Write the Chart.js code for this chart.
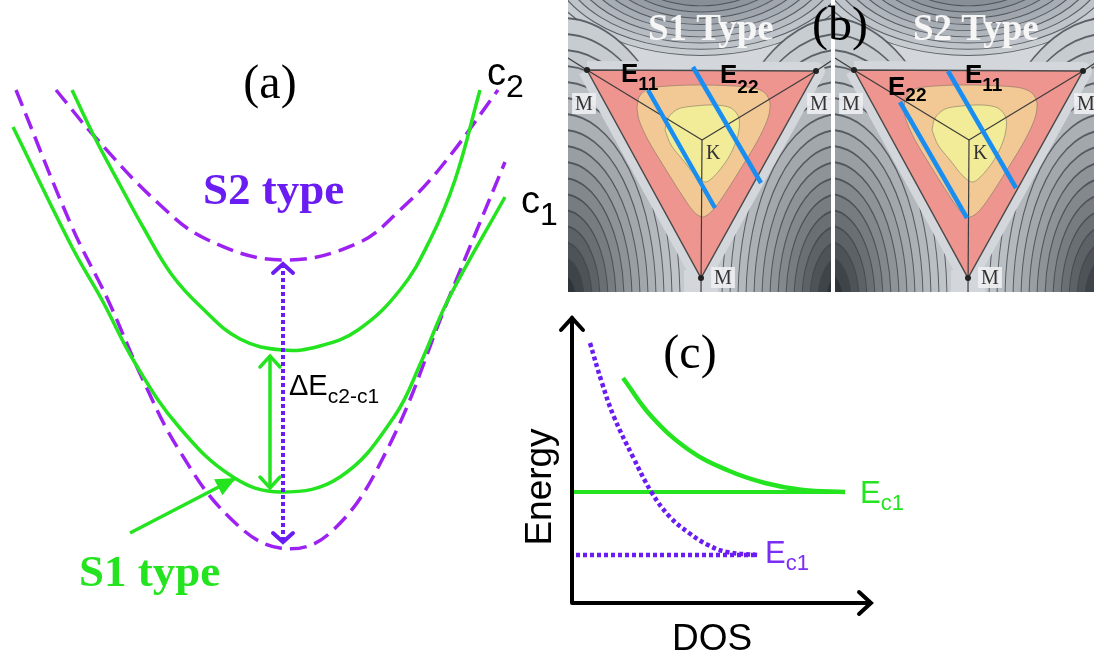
<!DOCTYPE html>
<html>
<head>
<meta charset="utf-8">
<title>S1 / S2 type bands</title>
<script src="https://cdn.jsdelivr.net/npm/chart.js@4.4.1/dist/chart.umd.min.js"></script>
<style>
    body { margin: 0; background: #fff; }
    #fig { position: relative; width: 1094px; height: 660px; overflow: hidden; }
    #fig canvas { position: absolute; }
    .tag { position: absolute; font: 48px/48px "Liberation Serif", serif; color: #000; }
</style>
</head>
<body>
<div id="fig">
    <canvas id="chartA" width="560" height="660" style="left:0;top:0"></canvas>
    <canvas id="chartB1" width="263" height="292" style="left:568px;top:0"></canvas>
    <canvas id="chartB2" width="259" height="292" style="left:835px;top:0"></canvas>
    <canvas id="chartC" width="594" height="360" style="left:500px;top:300px"></canvas>
    <div class="tag" style="left:812px;top:0">(b)</div>
</div>
<script>
// ---- (a) bands (k, E in figure pixels) ----
const c2S2 = [[56, 90], [95, 137], [158, 203], [208, 240], [283, 260], [358, 243], [400, 210], [441, 167], [498, 90]];
const c2S1 = [[72, 90], [95, 138], [120, 185], [143, 227], [172, 275], [201, 307], [240, 339], [283, 350], [320, 346], [358, 330], [400, 290], [430, 240], [455, 180], [480, 90]];
const c1S1 = [[13, 127], [72, 247], [102, 300], [135, 363], [179, 427], [233, 477], [281, 492], [340, 477], [394, 417], [422, 360], [448, 300], [505, 197]];
const c1S2 = [[16, 90], [72, 227], [108, 300], [143, 380], [179, 450], [229, 517], [280, 548], [330, 533], [387, 450], [448, 300], [505, 162]];
const gapS1 = [[270, 356], [270, 488]];
const gapS2 = [[283, 264], [283, 542]];
const s1Pointer = [[130, 533], [236, 478]];

// ---- (b) Brillouin zone maps (pixels inside each map) ----
const bzTriangle = [[19, 70], [248, 71], [133, 278], [19, 70]];
const bzOrange = [[69, 108], [71, 97], [80, 89], [100, 86], [133, 85], [166, 86], [186, 88], [197, 93], [202, 103], [200, 118], [190, 140], [175, 165], [158, 192], [145, 210], [135, 217], [126, 212], [112, 192], [95, 165], [80, 140], [71, 120], [69, 108]];
const bzYellow = [[97, 130], [100, 118], [110, 109], [127, 106], [147, 105], [163, 108], [171, 118], [170, 135], [162, 155], [150, 172], [138, 182], [128, 176], [115, 160], [103, 145], [97, 130]];
const bzSpokes = [
    [[19, 70], [134, 140]],
    [[248, 71], [134, 140]],
    [[134, 140], [133, 292]],
    [[19, 70], [0, 58]],
    [[248, 71], [263, 61]]
];
const bzVertices = [[19, 70], [248, 71], [133, 278]];
const bzSaddle = [[133, 270], [133, 300]];
const bzTopRadii = [162, 152, 142, 132, 122, 112, 102, 92, 82, 72];
const bzCornerRadii = [141, 133, 125, 117, 109, 101, 93, 85, 77, 69, 61, 53, 45, 37, 29, 21, 13];
const bzTopCenter = [133, -45];
const bzLeftCenter = [-5, 300];
const bzRightCenter = [271, 300];
const s1E11 = [[80, 90], [147, 208]];
const s1E22 = [[125, 67], [193, 183]];
const s2E22 = [[65, 102], [132, 218]];
const s2E11 = [[113, 71], [181, 188]];

// ---- (c) DOS sketch (figure pixels) ----
const dosAxes = [[572, 318], [572, 603], [871, 603]];
const dosS1 = [[623, 378], [652, 417], [689, 450], [727, 470], [765, 483], [803, 490], [845, 492]];
const edgeS1 = [[574, 492], [845, 492]];
const dosS2 = [[590, 343], [602, 383], [614, 417], [633, 457], [652, 493], [670, 517], [689, 533], [708, 545], [727, 552], [758, 555]];
const edgeS2 = [[576, 555], [758, 555]];

const GREEN = '#23e41f';
const VIOLET = '#9d22f2';
const INDIGO = '#6a1cf2';
const BLUE = '#1a8ef0';
const SANS = '"Liberation Sans", Arial, sans-serif';
const SERIF = '"Liberation Serif", "Times New Roman", serif';

const pts = arr => arr.map(([x, y]) => ({ x, y }));

function mix(a, b, t) {
    const pa = a.match(/\w\w/g).map(h => parseInt(h, 16));
    const pb = b.match(/\w\w/g).map(h => parseInt(h, 16));
    return 'rgb(' + pa.map((v, i) => Math.round(v + (pb[i] - v) * t)).join(',') + ')';
}

/**
 * arrow heads, text and the extra fills
 */
const figurePlugin = {
    id: 'figure',
    beforeDraw(chart, args, opts) {
        if (!opts.background) return;
        const { ctx, chartArea: a } = chart;
        ctx.save();
        ctx.fillStyle = opts.background;
        ctx.fillRect(a.left, a.top, a.width, a.height);
        ctx.restore();
    },
    beforeDatasetDraw(chart, args) {
        const ds = chart.data.datasets[args.index];
        const ctx = chart.ctx;
        if (ds.shapeFill) {
            const p = new Path2D();
            args.meta.dataset.path(p);
            p.closePath();
            ctx.save();
            ctx.fillStyle = ds.shapeFill;
            ctx.fill(p);
            ctx.restore();
        }
        if (ds.stretch) {
            const cx = chart.scales.x.getPixelForValue(ds.stretch.cx);
            const cy = chart.scales.y.getPixelForValue(ds.stretch.cy);
            ctx.save();
            ctx.translate(cx, cy);
            ctx.scale(1, ds.stretch.sy);
            ctx.translate(-cx, -cy);
        }
    },
    afterDatasetDraw(chart, args) {
        const ds = chart.data.datasets[args.index];
        if (ds.stretch) chart.ctx.restore();
        if (ds.arrows) drawArrows(chart.ctx, args.meta.data, ds);
    },
    afterDraw(chart, args, opts) {
        const { ctx, scales: { x, y } } = chart;
        (opts.labels || []).forEach(l => {
            ctx.save();
            ctx.translate(x.getPixelForValue(l.x), y.getPixelForValue(l.y));
            if (l.rotate) ctx.rotate(l.rotate * Math.PI / 180);
            ctx.font = l.font;
            ctx.textAlign = l.align || 'left';
            ctx.textBaseline = 'alphabetic';
            const w = ctx.measureText(l.text).width;
            if (l.box) {
                ctx.fillStyle = l.box;
                ctx.fillRect(-w / 2 - 3, -17, w + 6, 21);
            }
            ctx.fillStyle = l.color || '#000';
            ctx.fillText(l.text, 0, 0);
            if (l.sub) {
                const start = l.align === 'center' ? w / 2 : (l.align === 'right' ? 0 : w);
                ctx.font = l.subFont;
                ctx.textAlign = 'left';
                ctx.fillText(l.sub, start, l.subDy);
            }
            ctx.restore();
        });
    }
};

function drawArrows(ctx, points, ds) {
    const a = ds.arrows;
    const ends = [];
    if (a.start) ends.push([points[0], points[1]]);
    if (a.end) ends.push([points[points.length - 1], points[points.length - 2]]);
    ctx.save();
    ctx.setLineDash([]);
    ctx.strokeStyle = ds.borderColor;
    ctx.fillStyle = ds.borderColor;
    ctx.lineWidth = a.width || ds.borderWidth;
    ctx.lineJoin = 'miter';
    ctx.lineCap = 'round';
    ends.forEach(([tip, prev]) => {
        const dx = tip.x - prev.x, dy = tip.y - prev.y;
        const len = Math.hypot(dx, dy);
        const ux = dx / len, uy = dy / len;
        const bx = tip.x - ux * a.length, by = tip.y - uy * a.length;
        ctx.beginPath();
        ctx.moveTo(bx - uy * a.half, by + ux * a.half);
        ctx.lineTo(tip.x, tip.y);
        ctx.lineTo(bx + uy * a.half, by - ux * a.half);
        if (a.filled) {
            ctx.closePath();
            ctx.fill();
        } else {
            ctx.stroke();
        }
    });
    ctx.restore();
}

function makeChart(id, xr, yr, layers, labels, background) {
    // first layer lies at the bottom
    const datasets = layers.map((d, i) => Object.assign({
        type: 'line', order: layers.length - i, pointRadius: 0, fill: false, borderWidth: 3.5
    }, d));
    return new Chart(document.getElementById(id), {
        type: 'line',
        data: { datasets },
        options: {
            responsive: false,
            animation: false,
            events: [],
            layout: { padding: 0, autoPadding: false },
            scales: {
                x: { type: 'linear', min: xr[0], max: xr[1], display: false },
                y: { type: 'linear', min: yr[0], max: yr[1], reverse: true, display: false }
            },
            plugins: {
                legend: { display: false },
                tooltip: { enabled: false },
                figure: { labels, background }
            }
        },
        plugins: [figurePlugin]
    });
}

function curve(data, color, extra) {
    return Object.assign({ data: pts(data), borderColor: color, tension: 0.4 }, extra);
}

// ---------- panel (a) ----------
makeChart('chartA', [0, 560], [0, 660], [
    curve(c1S2, VIOLET, { borderDash: [17, 8], borderWidth: 3.5 }),
    curve(c2S2, VIOLET, { borderDash: [17, 8], borderWidth: 3.5 }),
    curve(c1S1, GREEN),
    curve(c2S1, GREEN),
    curve(gapS2, INDIGO, { tension: 0, borderWidth: 4, borderDash: [4, 3], arrows: { start: true, end: true, length: 9, half: 10 } }),
    curve(gapS1, GREEN, { tension: 0, borderWidth: 3.5, arrows: { start: true, end: true, length: 11, half: 10 } }),
    curve(s1Pointer, GREEN, { tension: 0, borderWidth: 3.5, arrows: { end: true, filled: true, length: 20, half: 9 } })
], [
    { text: '(a)', x: 270, y: 98, font: '48px ' + SERIF, align: 'center' },
    { text: 'c', sub: '2', x: 487, y: 85, font: '38px ' + SANS, subFont: '32px ' + SANS, subDy: 12 },
    { text: 'c', sub: '1', x: 521, y: 213, font: '38px ' + SANS, subFont: '32px ' + SANS, subDy: 12 },
    { text: 'S2 type', x: 203, y: 204, font: 'bold 45px ' + SERIF, color: INDIGO },
    { text: 'S1 type', x: 79, y: 586, font: 'bold 45px ' + SERIF, color: GREEN },
    { text: '\u0394E', sub: 'c2-c1', x: 289, y: 395, font: '29px ' + SANS, subFont: '21px ' + SANS, subDy: 8 }
]);

// ---------- panel (b) ----------
function contourFamily(center, radii, sy, outer, inner, lineWidth, gamma) {
    return {
        type: 'bubble',
        clip: false,
        stretch: { cx: center[0], cy: center[1], sy },
        data: radii.map(r => ({ x: center[0], y: center[1], r })),
        backgroundColor: radii.map((r, i) => mix(outer, inner, Math.pow(i / (radii.length - 1), gamma))),
        borderColor: 'rgba(65,70,76,0.8)',
        borderWidth: lineWidth
    };
}

function bzLayers(blueA, blueB) {
    const band = '#d3d7dc';
    const layers = [
        contourFamily(bzTopCenter, bzTopRadii, 0.62, '#c7ccd1', '#80878f', 1.5, 1),
        contourFamily(bzLeftCenter, bzCornerRadii, 2, '#c8cdd2', '#2f3439', 1, 1.7),
        contourFamily(bzRightCenter, bzCornerRadii, 2, '#c8cdd2', '#2f3439', 1, 1.7),
        { data: pts(bzSaddle), borderColor: band, borderWidth: 34 },
        { data: pts(bzTriangle), borderColor: band, borderWidth: 18, borderJoinStyle: 'round' },
        { data: pts(bzTriangle), borderColor: '#4a4a4a', borderWidth: 1.5, shapeFill: '#ee958f' },
        { data: pts(bzOrange), borderColor: 'rgba(130,115,100,0.6)', borderWidth: 1, tension: 0.3, shapeFill: '#f2c994' },
        { data: pts(bzYellow), borderColor: 'rgba(130,120,100,0.6)', borderWidth: 1, tension: 0.3, shapeFill: '#f2ec98' }
    ];
    bzSpokes.forEach(s => layers.push({ data: pts(s), borderColor: '#3c3c3c', borderWidth: 1.2 }));
    layers.push({ data: pts(bzVertices), showLine: false, pointRadius: 3, pointBackgroundColor: '#222', pointBorderWidth: 0 });
    layers.push({ data: pts(blueA), borderColor: BLUE, borderWidth: 4.5 });
    layers.push({ data: pts(blueB), borderColor: BLUE, borderWidth: 4.5 });
    return layers;
}

function mLabels() {
    const f = '20px ' + SERIF;
    return [
        { text: 'M', x: 16, y: 110, font: f, align: 'center', color: '#333', box: 'rgba(238,240,242,0.9)' },
        { text: 'M', x: 251, y: 110, font: f, align: 'center', color: '#333', box: 'rgba(238,240,242,0.9)' },
        { text: 'M', x: 155, y: 284, font: f, align: 'center', color: '#333', box: 'rgba(238,240,242,0.9)' },
        { text: 'K', x: 138, y: 159, font: f, color: '#333' }
    ];
}

const eFont = 'bold 26px ' + SANS;
const eSub = 'bold 19px ' + SANS;

makeChart('chartB1', [0, 263], [0, 292], bzLayers(s1E11, s1E22), [
    { text: 'S1 Type', x: 80, y: 40, font: 'bold 37px ' + SERIF, color: '#f6f6f6' },
    { text: 'E', sub: '11', x: 53, y: 82, font: eFont, subFont: eSub, subDy: 8 },
    { text: 'E', sub: '22', x: 152, y: 83, font: eFont, subFont: eSub, subDy: 10 }
].concat(mLabels()), '#d3d7dc');

makeChart('chartB2', [0, 259], [0, 292], bzLayers(s2E22, s2E11), [
    { text: 'S2 Type', x: 78, y: 40, font: 'bold 37px ' + SERIF, color: '#f6f6f6' },
    { text: 'E', sub: '22', x: 53, y: 95, font: eFont, subFont: eSub, subDy: 6 },
    { text: 'E', sub: '11', x: 130, y: 83, font: eFont, subFont: eSub, subDy: 8 }
].concat(mLabels()), '#d3d7dc');

// ---------- panel (c) ----------
makeChart('chartC', [500, 1094], [300, 660], [
    curve(dosAxes, '#000', { tension: 0, borderWidth: 4, borderJoinStyle: 'round', arrows: { start: true, end: true, length: 12, half: 11 } }),
    curve(edgeS1, GREEN, { tension: 0, borderWidth: 4 }),
    curve(dosS1, GREEN, { borderWidth: 4.5 }),
    curve(edgeS2, INDIGO, { tension: 0, borderWidth: 4.5, borderDash: [4, 3] }),
    curve(dosS2, INDIGO, { borderWidth: 4.5, borderDash: [4, 3] })
], [
    { text: '(c)', x: 690, y: 368, font: '48px ' + SERIF, align: 'center' },
    { text: 'Energy', x: 551, y: 487, font: '37px ' + SANS, align: 'center', rotate: -90 },
    { text: 'DOS', x: 712, y: 650, font: '37px ' + SANS, align: 'center' },
    { text: 'E', sub: 'c1', x: 860, y: 503, font: '31px ' + SANS, subFont: '22px ' + SANS, subDy: 7, color: GREEN },
    { text: 'E', sub: 'c1', x: 765, y: 563, font: '31px ' + SANS, subFont: '22px ' + SANS, subDy: 7, color: '#7a2df5' }
]);
</script>
</body>
</html>
